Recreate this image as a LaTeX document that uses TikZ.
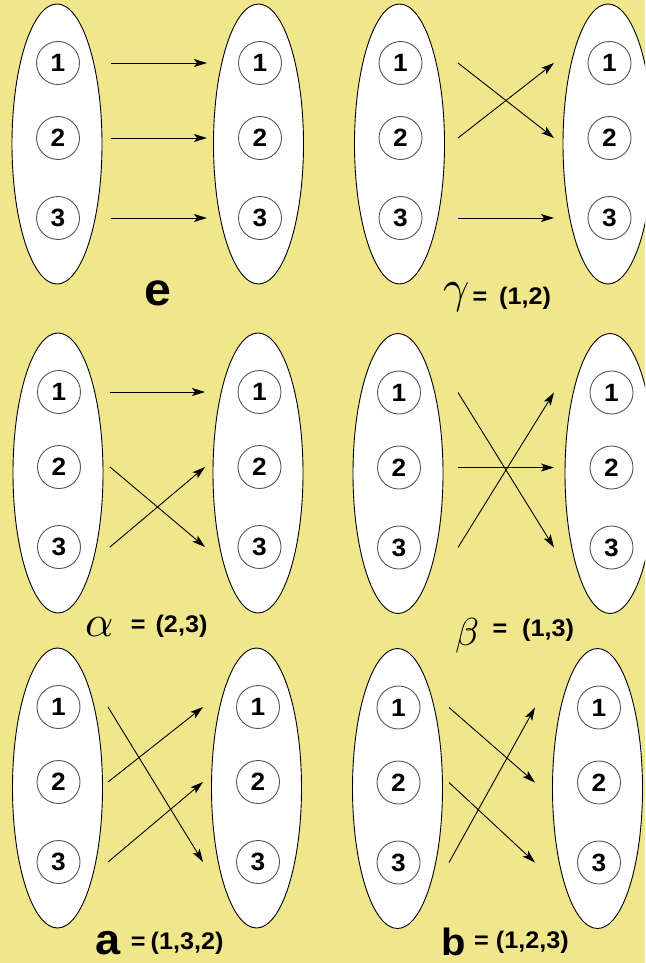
\documentclass[tikz,border=0pt]{standalone}
\usepackage{fontspec}
\setmainfont{Liberation Sans}
\newfontfamily\lblfont[FakeStretch=1.05]{Liberation Sans}
\usetikzlibrary{shapes.geometric,arrows.meta}
\definecolor{bgkhaki}{RGB}{240,230,140}
\definecolor{ringgray}{RGB}{85,85,85}
\tikzset{
  bigell/.style={ellipse, draw=black, fill=white, line width=0.9pt,
    minimum width=90pt, minimum height=280pt, inner sep=0pt},
  numcirc/.style={circle, draw=ringgray, fill=white, line width=0.9pt,
    minimum size=43pt, inner sep=0pt,
    font=\lblfont\bfseries\fontsize{25}{25}\selectfont},
  maparrow/.style={-{Stealth[length=13pt,width=8pt,inset=3pt]}, line width=0.9pt, draw=black},
  eqlabel/.style={anchor=base west, inner sep=0pt,
    font=\lblfont\bfseries\fontsize{24}{24}\selectfont},
  greeklabel/.style={anchor=base west, inner sep=0pt, font=\fontsize{10}{10}\selectfont},
  biglabel/.style={anchor=base west, inner sep=0pt}
}
% #1 prefix, #2 left centre x, #3 right centre x, #4 centre y, #5 arrow start x, #6 arrow end x
\newcommand{\permpanel}[6]{%
  \node[bigell] (#1L) at (#2,#4) {};
  \node[bigell] (#1R) at (#3,#4) {};
  \foreach \k/\dy in {1/-81,2/-6,3/74}{%
    \node[numcirc] (#1l\k) at ({#2+1},{#4+(\dy)}) {\k};
    \node[numcirc] (#1r\k) at ({#3+1.5},{#4+(\dy)}) {\k};
    \coordinate (#1s\k) at (#5,{#4+(\dy)});
    \coordinate (#1t\k) at (#6,{#4+(\dy)});
  }%
}
\begin{document}
\begin{tikzpicture}[x=1pt,y=-1pt]
  \path[use as bounding box] (0,0) rectangle (645,963);
  \clip (0,0) rectangle (645,963);
  \fill[bgkhaki] (0,0) rectangle (645,963);

  % e
  \permpanel{e}{57}{258.5}{144}{111}{207}
  \draw[maparrow] (es1) -- (et1);
  \draw[maparrow] (es2) -- (et2);
  \draw[maparrow] (es3) -- (et3);
  \node[biglabel, font=\lblfont\bfseries\fontsize{46}{46}\selectfont] (elab) at (144,305) {e};

  % gamma = (1,2)
  \permpanel{g}{399.5}{608}{144}{458}{554}
  \draw[maparrow] (gs1) -- (gt2);
  \draw[maparrow] (gs2) -- (gt1);
  \draw[maparrow] (gs3) -- (gt3);
  \node[greeklabel] (glab) at (443,302) {\scalebox{4.6}{$\gamma$}};
  \node[eqlabel] (geq) at (472.3,304.5) {=\hspace*{12pt}(1,2)};

  % alpha = (2,3)
  \permpanel{al}{58}{258}{473}{110}{205}
  \draw[maparrow] (als1) -- (alt1);
  \draw[maparrow] (als2) -- (alt3);
  \draw[maparrow] (als3) -- (alt2);
  \node[greeklabel] (allab) at (85,636.5) {\scalebox{4.4}{$\alpha$}};
  \node[eqlabel] (aleq) at (130.7,632.5) {=\hspace*{10pt}(2,3)};

  % beta = (1,3)
  \permpanel{be}{398}{610}{473.5}{458}{554}
  \draw[maparrow] (bes1) -- (bet3);
  \draw[maparrow] (bes2) -- (bet2);
  \draw[maparrow] (bes3) -- (bet1);
  \node[greeklabel] (belab) at (455,645) {\scalebox{3.9}{$\beta$}};
  \node[eqlabel] (beeq) at (492.3,636) {=\hspace*{15pt}(1,3)};

  % a = (1,3,2)
  \permpanel{a}{57.5}{256.5}{788}{108}{203}
  \draw[maparrow] (as1) -- (at3);
  \draw[maparrow] (as2) -- (at1);
  \draw[maparrow] (as3) -- (at2);
  \node[biglabel, font=\lblfont\bfseries\fontsize{43}{43}\selectfont] (alab) at (95,954) {a};
  \node[eqlabel] (aeq) at (130.7,949) {=\hspace*{5pt}(1,3,2)};

  % b = (1,2,3)
  \permpanel{b}{397.5}{597.5}{788.5}{449}{535}
  \draw[maparrow] (bs1) -- (bt2);
  \draw[maparrow] (bs2) -- (bt3);
  \draw[maparrow] (bs3) -- (bt1);
  \node[biglabel, font=\lblfont\bfseries\fontsize{38}{38}\selectfont] (blab) at (441,955.5) {b};
  \node[eqlabel] (beq) at (474,948) {=\hspace*{7pt}(1,2,3)};
\end{tikzpicture}
\end{document}
